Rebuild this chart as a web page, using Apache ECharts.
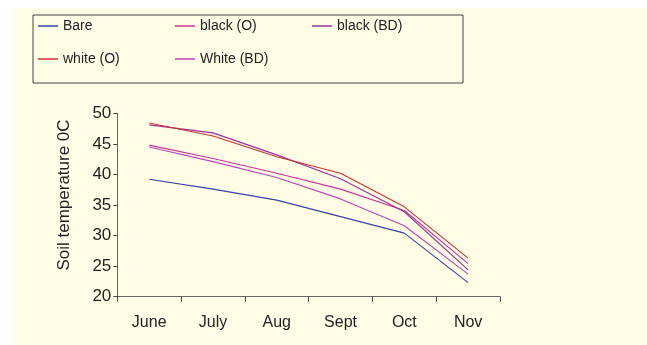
<!DOCTYPE html>
<html>
<head>
<meta charset="utf-8">
<script src="https://cdn.jsdelivr.net/npm/echarts@6/dist/echarts.min.js"></script>
<style>
html,body{margin:0;padding:0;background:#ffffff;width:647px;height:345px;overflow:hidden;}
#chart{position:absolute;left:14px;top:8px;width:633px;height:337px;}
</style>
</head>
<body>
<div id="chart"></div>
<script>
const months = ['June', 'July', 'Aug', 'Sept', 'Oct', 'Nov'];
const seriesNames = ['Bare', 'black (O)', 'black (BD)', 'white (O)', 'White (BD)'];
const bare = [39.2, 37.6, 35.8, 33.1, 30.4, 22.3];
const blackO = [44.8, 42.6, 40.2, 37.6, 34.1, 25.4];
const blackBD = [48.1, 46.8, 43.2, 39.3, 33.9, 24.4];
const whiteO = [48.4, 46.3, 42.9, 40.2, 34.7, 26.3];
const whiteBD = [44.5, 42.1, 39.5, 36.0, 31.6, 23.7];
const yTicks = [20, 25, 30, 35, 40, 45, 50];

const values = [bare, blackO, blackBD, whiteO, whiteBD];
const colors = ['#3344aa', '#cc3399', '#993399', '#cc3333', '#bb44bb'];

const chart = echarts.init(document.getElementById('chart'), null, {renderer: 'canvas'});
chart.setOption({
  backgroundColor: '#fffde6',
  animation: false,
  textStyle: {fontFamily: 'Liberation Sans, Arial, sans-serif'},
  legend: {
    left: 19, top: 7,
    width: 400,
    padding: [4, 33, 17, 5],
    borderColor: '#444444', borderWidth: 1,
    icon: 'rect', itemWidth: 20, itemHeight: 1.5, itemGap: 19,
    textStyle: {fontSize: 14, color: '#222222', width: 93, lineHeight: 14, fontFamily: 'Liberation Sans, Arial, sans-serif'},
    data: seriesNames
  },
  grid: {left: 103.3, right: 633 - 486, top: 105.3, bottom: 48.3, containLabel: false},
  xAxis: {
    type: 'category', data: months, boundaryGap: true,
    axisLine: {lineStyle: {color: '#666666', width: 1}},
    axisTick: {show: true, inside: false, length: 5, alignWithLabel: false, lineStyle: {color: '#444444'}},
    axisLabel: {fontSize: 16, color: '#222222', margin: 18},
    splitLine: {show: false}
  },
  yAxis: {
    type: 'value', min: yTicks[0], max: yTicks[yTicks.length - 1], interval: 5,
    name: 'Soil temperature 0C', nameLocation: 'middle', nameGap: 44, nameRotate: 90,
    nameTextStyle: {fontSize: 17, color: '#222222', padding: [0, 0, 0, 20]},
    axisLine: {show: true, lineStyle: {color: '#666666', width: 1}},
    axisTick: {show: true, inside: false, length: 4, lineStyle: {color: '#444444'}},
    axisLabel: {fontSize: 17, color: '#222222', margin: 6},
    splitLine: {show: false}
  },
  series: seriesNames.map((n, i) => ({
    name: n, type: 'line', data: values[i], symbol: 'none',
    lineStyle: {color: colors[i], width: 1.1},
    itemStyle: {color: colors[i]}
  }))
});
</script>
</body>
</html>
